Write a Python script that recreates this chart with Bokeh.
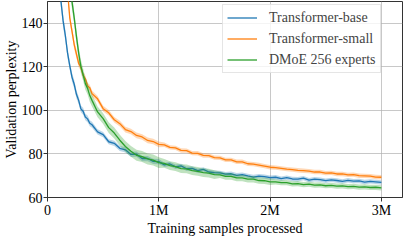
from bokeh.plotting import figure
from bokeh.models import FixedTicker, Legend, LegendItem, Range1d
from bokeh.embed import file_html
from bokeh.resources import INLINE

# training samples processed (millions)
samples_m = [0.10, 0.12, 0.14, 0.16, 0.18, 0.20, 0.22, 0.24, 0.26, 0.28, 0.30, 0.32, 0.34, 0.36, 0.38, 0.40,
             0.45, 0.50, 0.55, 0.60, 0.65, 0.70, 0.75, 0.80, 0.85, 0.90, 0.95, 1.00,
             1.05, 1.10, 1.15, 1.20, 1.25, 1.30, 1.35, 1.40, 1.45, 1.50, 1.55, 1.60, 1.65, 1.70, 1.75, 1.80, 1.85, 1.90, 1.95, 2.00,
             2.05, 2.10, 2.15, 2.20, 2.25, 2.30, 2.35, 2.40, 2.45, 2.50, 2.55, 2.60, 2.65, 2.70, 2.75, 2.80, 2.85, 2.90, 2.95, 3.00]

base_ppl = [168.0, 150.5, 141.2, 134.5, 126.4, 120.6, 115.3, 112.0, 107.4, 104.6, 100.7, 99.6, 97.0, 96.1, 94.1, 93.4,
            90.1, 88.9, 85.6, 84.9, 82.6, 81.9, 79.8, 79.9, 77.9, 77.9, 76.6, 76.5,
            75.0, 75.4, 74.1, 74.5, 73.2, 73.4, 72.3, 72.9, 71.7, 71.4, 71.3, 70.7, 70.9, 70.2, 70.5, 69.9, 69.4, 69.8, 69.6, 69.1,
            69.3, 68.7, 69.1, 68.5, 68.4, 68.9, 68.0, 68.4, 68.2, 67.7, 68.1, 67.8, 67.4, 67.9, 67.5, 67.6, 67.1, 67.4, 67.2, 66.9]
base_spread = [4.0, 3.0, 3.0, 2.5, 2.5, 2.0, 2.0, 2.0, 1.8, 1.8, 1.6, 1.6, 1.5, 1.5, 1.4, 1.4] + [1.2] * 12 + [1.0] * 40

small_ppl = [215.0, 200.0, 185.0, 170.0, 155.0, 142.5, 136.4, 130.2, 125.9, 121.6, 119.8, 116.1, 114.5, 111.2, 110.4, 107.7,
             105.3, 100.8, 98.9, 95.7, 93.9, 91.2, 90.3, 88.5, 87.8, 86.2, 85.7, 84.4,
             84.2, 83.0, 82.8, 81.6, 81.5, 80.4, 80.3, 79.3, 79.2, 78.3, 78.2, 77.3, 77.3, 76.4, 76.4, 75.5, 75.3, 74.9, 74.4, 73.9,
             73.7, 73.4, 73.0, 72.8, 72.5, 72.3, 72.1, 71.7, 71.7, 71.2, 71.3, 70.8, 70.8, 70.4, 70.5, 70.0, 69.9, 69.8, 69.4, 69.3]
small_spread = [3.0, 3.0, 3.0, 2.5, 2.5, 2.0, 2.0, 2.0, 1.8, 1.8, 1.6, 1.6, 1.5, 1.5, 1.4, 1.4] + [1.3] * 12 + [1.0] * 40

dmoe_ppl = [240.0, 220.0, 200.0, 185.0, 170.0, 158.0, 150.0, 142.5, 134.0, 126.3, 120.2, 116.4, 112.3, 110.1, 106.8, 104.6,
            99.3, 96.2, 92.1, 89.6, 86.3, 83.4, 81.2, 79.4, 78.8, 77.7, 77.2, 76.0,
            75.7, 74.6, 74.2, 73.3, 73.1, 72.3, 72.0, 71.4, 71.2, 70.5, 70.4, 69.7, 69.7, 69.0, 69.0, 68.4, 68.4, 67.8, 67.7, 67.2,
            67.2, 66.8, 66.8, 66.3, 66.4, 65.9, 66.1, 65.7, 65.8, 65.4, 65.6, 65.2, 65.3, 65.0, 65.1, 64.8, 64.9, 64.6, 64.7, 64.4]
dmoe_spread = [4.0, 4.0, 4.0, 4.0, 3.5, 3.5, 3.5, 3.0, 3.0, 3.0, 3.0, 2.8, 2.8, 2.8, 2.8, 2.8] + [2.5] * 12 + [2.0] * 10 + [1.5] * 10 + [1.2] * 20

series_names = ["Transformer-base", "Transformer-small", "DMoE 256 experts"]
series_colors = ["#1f77b4", "#ff7f0e", "#2ca02c"]
x_ticks = [0, 1, 2, 3]
x_tick_labels = {0: "0", 1: "1M", 2: "2M", 3: "3M"}
y_ticks = [60, 80, 100, 120, 140]

FONT = "Liberation Serif"

p = figure(frame_width=355, frame_height=196, output_backend="svg", toolbar_location=None,
           x_range=Range1d(0, 3.19), y_range=Range1d(60, 150),
           min_border_left=0, min_border_right=2, min_border_top=1, min_border_bottom=0)
p.outline_line_color = "#333333"
p.outline_line_width = 1
p.background_fill_color = "white"
p.border_fill_color = "white"

p.xaxis.ticker = FixedTicker(ticks=x_ticks)
p.xaxis.major_label_overrides = x_tick_labels
p.yaxis.ticker = FixedTicker(ticks=y_ticks)
for ax in (p.xaxis, p.yaxis):
    ax.axis_line_color = "#333333"
    ax.major_tick_line_color = "#333333"
    ax.major_tick_in = 0
    ax.major_tick_out = 4
    ax.minor_tick_line_color = None
    ax.major_label_text_font = FONT
    ax.major_label_text_font_size = "14px"
    ax.major_label_text_color = "black"
    ax.major_label_standoff = 1
    ax.axis_label_text_font = FONT
    ax.axis_label_text_font_size = "14px"
    ax.axis_label_text_font_style = "normal"
    ax.axis_label_text_color = "black"
    ax.axis_label_standoff = 0
p.xaxis.axis_label = "Training samples processed"
p.yaxis.axis_label = "Validation perplexity"

p.grid.grid_line_color = "#b0b0b0"
p.grid.grid_line_alpha = 0.7
p.grid.grid_line_width = 1

items = []
for name, col, ys, sp in zip(series_names, series_colors,
                             [base_ppl, small_ppl, dmoe_ppl],
                             [base_spread, small_spread, dmoe_spread]):
    lo = [a - b for a, b in zip(ys, sp)]
    hi = [a + b for a, b in zip(ys, sp)]
    p.varea(x=samples_m, y1=lo, y2=hi, fill_color=col, fill_alpha=0.3)
    r = p.line(x=samples_m, y=ys, line_color=col, line_width=1.3)
    items.append(LegendItem(label=name, renderers=[r]))

legend = Legend(items=items, location=(175, 124))
legend.label_text_font = FONT
legend.label_text_font_size = "14px"
legend.glyph_width = 30
legend.glyph_height = 17
legend.label_height = 17
legend.label_standoff = 12
legend.spacing = 4
legend.padding = 4
legend.margin = 0
legend.border_line_color = "#cccccc"
legend.border_line_width = 1
legend.background_fill_alpha = 0.8
p.add_layout(legend)

open("out.html", "w").write(file_html(p, INLINE))
